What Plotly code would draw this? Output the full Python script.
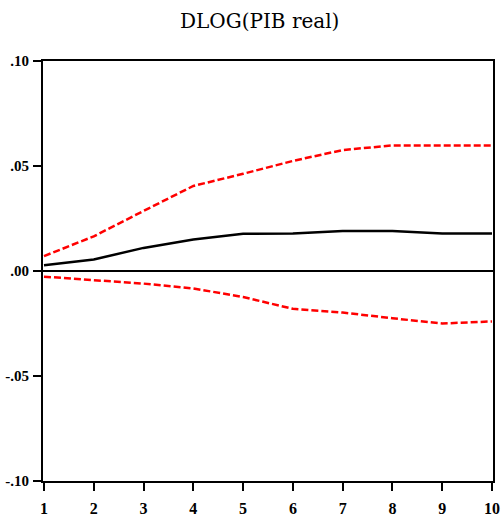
import plotly.graph_objects as go

periods = [1, 2, 3, 4, 5, 6, 7, 8, 9, 10]
response = [0.0027, 0.0055, 0.0110, 0.0150, 0.0177, 0.0178, 0.0191, 0.0191, 0.0179, 0.0178]
upper_band = [0.0071, 0.0165, 0.0286, 0.0405, 0.0463, 0.0524, 0.0576, 0.0598, 0.0598, 0.0598]
lower_band = [-0.0027, -0.0043, -0.0060, -0.0083, -0.0124, -0.0180, -0.0198, -0.0225, -0.0250, -0.0240]
y_tickvals = [0.10, 0.05, 0.00, -0.05, -0.10]
y_ticktext = [".10", ".05", ".00", "-.05", "-.10"]
title_text = "DLOG(PIB real)"

fig = go.Figure()
fig.add_trace(go.Scatter(x=periods, y=upper_band, mode="lines",
                         line=dict(color="#FF0000", width=2.5, dash="7px,3px")))
fig.add_trace(go.Scatter(x=periods, y=lower_band, mode="lines",
                         line=dict(color="#FF0000", width=2.5, dash="7px,3px")))
fig.add_trace(go.Scatter(x=periods, y=response, mode="lines",
                         line=dict(color="black", width=2.5)))

tick_font = dict(family="Liberation Serif", size=15, color="black", weight="bold")

L, R, T, B = 43, 11, 61, 42
W, H = 504, 523
pw = W - L - R
ph = H - T - B

fig.update_layout(
    width=W, height=H,
    margin=dict(l=L, r=R, t=T, b=B),
    paper_bgcolor="white", plot_bgcolor="white",
    showlegend=False,
    xaxis=dict(range=[0.98, 10.02], tickvals=periods, ticktext=[str(p) for p in periods],
               automargin=False, ticklabelstandoff=4,
               showgrid=False, zeroline=False, showline=True, linecolor="black", linewidth=2,
               mirror=True, ticks="outside", ticklen=8, tickwidth=2, tickcolor="black",
               tickfont=dict(family="Liberation Serif", size=16, color="black", weight="bold")),
    yaxis=dict(range=[-0.1, 0.1], tickvals=y_tickvals, ticktext=y_ticktext,
               automargin=False, ticklabelstandoff=1,
               showgrid=False, zeroline=True, zerolinecolor="black", zerolinewidth=2,
               showline=True, linecolor="black", linewidth=2, mirror=True,
               ticks="outside", ticklen=8, tickwidth=2, tickcolor="black",
               tickfont=tick_font),
    annotations=[dict(text=title_text, x=(259 - L) / pw, y=(H - B - 21) / ph,
                      xref="paper", yref="paper", xanchor="center", yanchor="middle",
                      showarrow=False,
                      font=dict(family="DejaVu Serif", size=20, color="black"))],
)

fig.write_html("out.html")
